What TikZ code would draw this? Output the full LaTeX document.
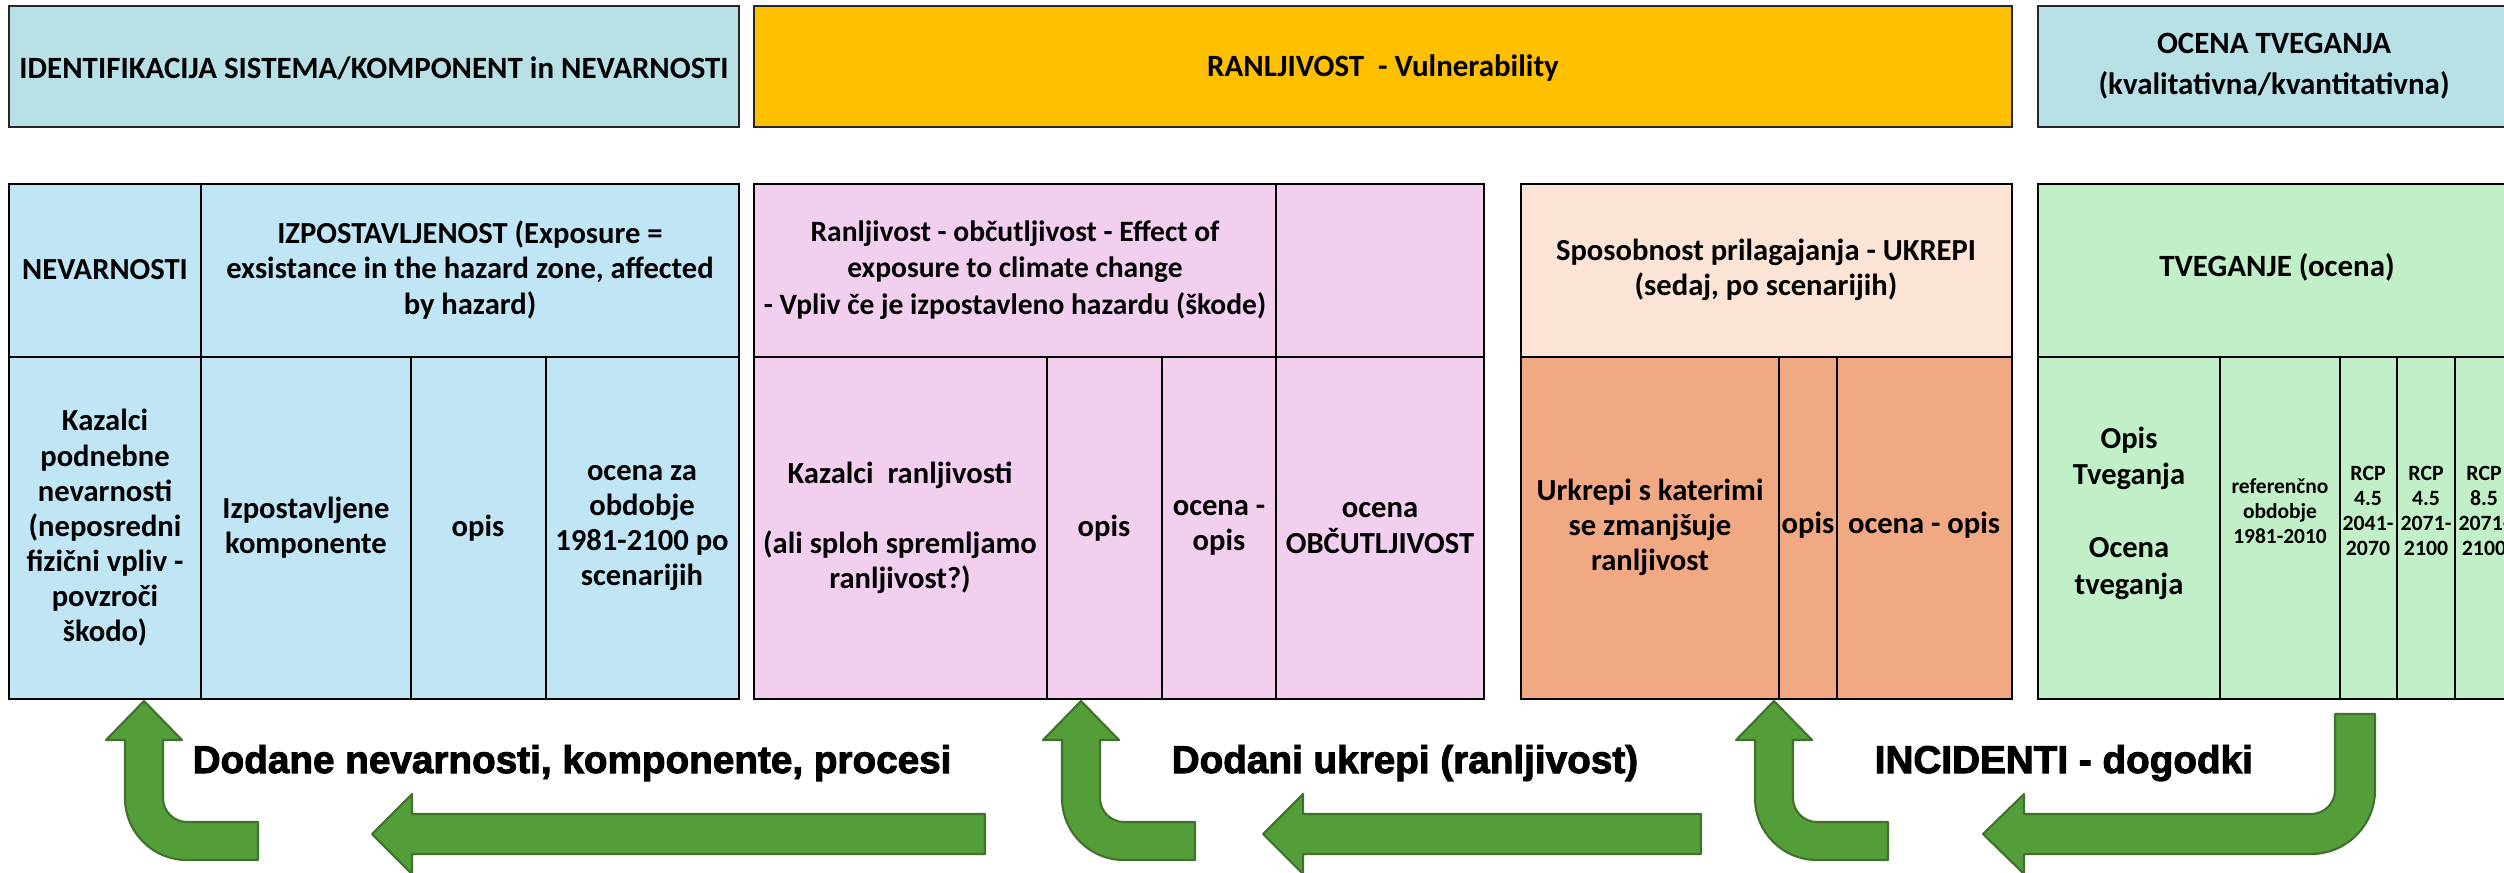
\documentclass[tikz,border=0pt]{standalone}
\usepackage{fontspec}
\usepackage{xcolor}
\usepackage{tikz}
\setmainfont{Carlito}
\newfontfamily\arrowfont{Liberation Sans}[UprightFont={* Bold}, FakeBold=2.5]

\definecolor{topblue}{HTML}{B8E0E7}
\definecolor{ranyellow}{HTML}{FFC000}
\definecolor{expblue}{HTML}{C0E6F5}
\definecolor{vulpink}{HTML}{F2CEEF}
\definecolor{adaptlight}{HTML}{FBE3D6}
\definecolor{adaptorange}{HTML}{F1A983}
\definecolor{riskgreen}{HTML}{C1F0C8}
\definecolor{arrowgreen}{HTML}{539E39}
\definecolor{arrowedge}{HTML}{41712C}

\begin{document}
\begin{tikzpicture}[x=0.01cm, y=-0.01cm,
  every node/.style={align=center, inner sep=0pt},
  topbox/.style={draw=black!85, line width=0.6pt},
  tab/.style={draw=black, line width=0.8pt},
  bigarrow/.style={fill=arrowgreen, draw=arrowedge, line width=0.6pt, line join=round},
  toptext/.style={font=\fontsize{8.8}{11.5}\selectfont\bfseries},
  celltext/.style={font=\fontsize{8.7}{10}\selectfont\bfseries},
  adapttext/.style={font=\fontsize{8.7}{10}\selectfont\bfseries},
  risktext/.style={font=\fontsize{8.7}{10.4}\selectfont\bfseries},
  smalltext/.style={font=\fontsize{6.1}{7}\selectfont\bfseries},
  arrowtext/.style={font=\fontsize{11}{13}\selectfont\arrowfont, anchor=base west}]
  \useasboundingbox (0,0) rectangle (2504,872);
  \clip (0,0) rectangle (2504,872);

  \draw[topbox, fill=topblue] (9,6) rectangle (739,127);
  \node[toptext] (ident) at (374,68) {IDENTIFIKACIJA SISTEMA/KOMPONENT in NEVARNOSTI};
  \draw[topbox, fill=ranyellow] (754,6) rectangle (2012,127);
  \node[toptext] (ranlj) at (1383,68) {RANLJIVOST\ \ - Vulnerability};
  \draw[topbox, fill=topblue] (2038,6) rectangle (2520,127);
  \node[toptext] (ocena) at (2274,66) {OCENA TVEGANJA\\(kvalitativna/kvantitativna)};

  \draw[tab, fill=expblue] (9,184) rectangle (739,699);
  \draw[tab] (9,357) -- (739,357) (201,184) -- (201,699) (411,357) -- (411,699) (546,357) -- (546,699);
  \node[celltext] (nev) at (105,270) {NEVARNOSTI};
  \node[celltext] (izp) at (470,270) {IZPOSTAVLJENOST (Exposure =\\exsistance in the hazard zone, affected\\by hazard)};
  \node[celltext] (kaz) at (105,528) {Kazalci\\podnebne\\nevarnosti\\(neposredni\\fizični vpliv -\\povzroči\\škodo)};
  \node[celltext] (komp) at (306,528) {Izpostavljene\\komponente};
  \node[celltext] (opis1) at (478,528) {opis};
  \node[celltext] (ocz) at (642,528) {ocena za\\obdobje\\1981-2100 po\\scenarijih};

  \draw[tab, fill=vulpink] (754,184) rectangle (1484,699);
  \draw[tab] (754,357) -- (1484,357) (1276,184) -- (1276,699) (1047,357) -- (1047,699) (1162,357) -- (1162,699);
  \node[celltext, font=\fontsize{8.4}{10.3}\selectfont\bfseries] (ranob) at (1015,270) {Ranljivost - občutljivost - Effect of\\exposure to climate change\\- Vpliv če je izpostavleno hazardu (škode)};
  \node[celltext] (kazr) at (900,528) {Kazalci\ \ ranljivosti\\~\\(ali sploh spremljamo\\ranljivost?)};
  \node[celltext] (opis2) at (1104,528) {opis};
  \node[celltext] (ocop2) at (1219,528) {ocena -\\opis};
  \node[celltext] (obc) at (1380,528) {ocena\\OBČUTLJIVOST};

  \draw[tab, fill=adaptlight] (1521,184) rectangle (2012,357);
  \draw[tab, fill=adaptorange] (1521,357) rectangle (2012,699);
  \draw[tab] (1779,357) -- (1779,699) (1837,357) -- (1837,699);
  \node[adapttext] (spos) at (1766,270) {Sposobnost prilagajanja - UKREPI\\(sedaj, po scenarijih)};
  \node[adapttext] (ukr) at (1650,527) {Urkrepi s katerimi\\se zmanjšuje\\ranljivost};
  \node[adapttext] (opis3) at (1808,525) {opis};
  \node[adapttext] (ocop3) at (1924,525) {ocena - opis};

  \draw[tab, fill=riskgreen] (2038,184) rectangle (2514,699);
  \draw[tab] (2038,357) -- (2514,357) (2220,357) -- (2220,699);
  \foreach \lx in {2340,2397,2455}
    \draw[tab] (\lx,357) -- (\lx,699);
  \node[font=\fontsize{8.8}{10.5}\selectfont\bfseries] (tveg) at (2277,267) {TVEGANJE (ocena)};
  \node[risktext] (opist) at (2129,513) {Opis\\Tveganja\\~\\Ocena\\tveganja};
  \node[smalltext] (refob) at (2280,511) {referenčno\\obdobje\\1981-2010};
  \foreach \cx/\sc/\ya/\yb in {2368/4.5/2041/2070, 2426/4.5/2071/2100, 2484/8.5/2071/2100}
    \node[smalltext, font=\fontsize{6.2}{7.1}\selectfont\bfseries] (rcp\cx) at (\cx,511) {RCP\\\sc\\\ya-\\\yb};

  \foreach \tx in {144,1081,1774}
    \draw[bigarrow, shift={(\tx,0)}] (0,701) -- (38,740) -- (19,740) -- (19,798)
      arc[start angle=180, end angle=90, radius=24] -- (114,822) -- (114,860) -- (43,860)
      arc[start angle=90, end angle=180, radius=62] -- (-19,740) -- (-38,740) -- cycle;
  \foreach \tx/\ex in {372/985, 1263/1701}
    \draw[bigarrow] (\tx,834) -- (\tx+40,794) -- (\tx+40,814) -- (\ex,814) -- (\ex,854)
      -- (\tx+40,854) -- (\tx+40,874) -- cycle;
  \draw[bigarrow] (1983,834) -- (2024,794) -- (2024,814) -- (2311,814)
    arc[start angle=90, end angle=0, radius=24] -- (2335,714) -- (2375,714) -- (2375,790)
    arc[start angle=0, end angle=90, radius=64] -- (2024,854) -- (2024,874) -- cycle;

  \node[arrowtext] (dodn) at (192,773) {Dodane nevarnosti, komponente, procesi};
  \node[arrowtext] (dodu) at (1171,773) {Dodani ukrepi (ranljivost)};
  \node[arrowtext] (inc) at (1874,773) {INCIDENTI - dogodki};
\end{tikzpicture}
\end{document}
